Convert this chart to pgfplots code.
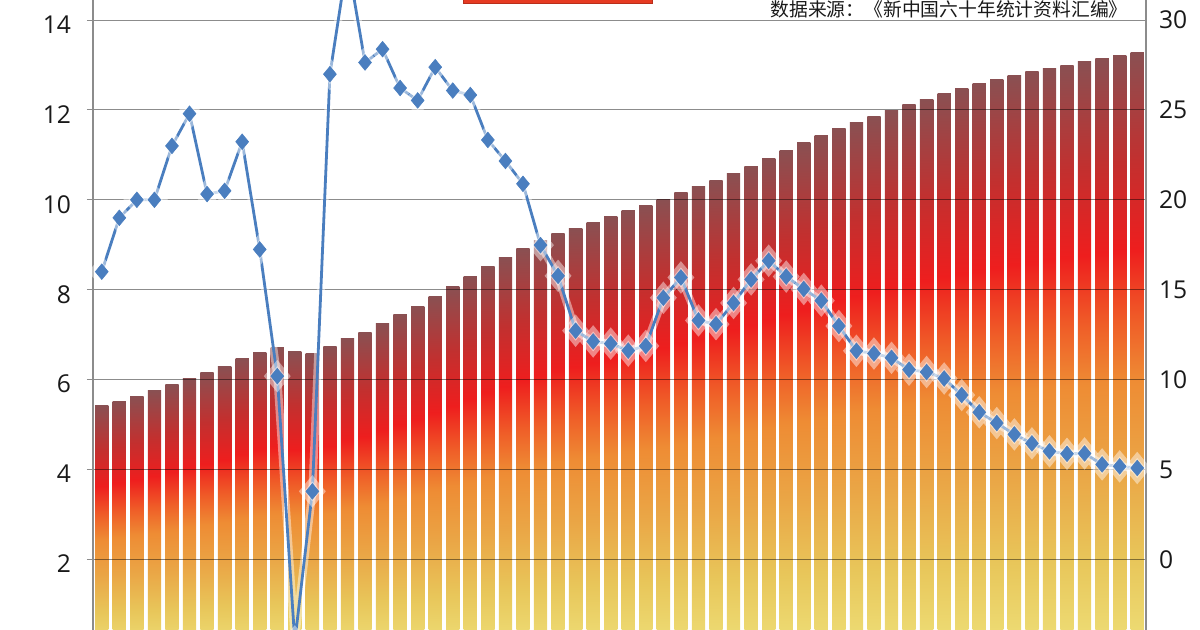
\documentclass[border=0pt]{standalone}
\usepackage{pgfplots}
\pgfplotsset{compat=1.18}
\usepackage{pgfplotstable}
\usepackage{fontspec}
\setmainfont{Open Sans}
\newfontfamily\cjk{Noto Sans CJK SC}
\definecolor{c0}{HTML}{EEDF78}
\definecolor{c1}{HTML}{E8C65A}
\definecolor{c2}{HTML}{EAA646}
\definecolor{c3}{HTML}{EE8C34}
\definecolor{c4}{HTML}{EF5E28}
\definecolor{c5}{HTML}{EE1E1E}
\definecolor{c6}{HTML}{C2302F}
\definecolor{c7}{HTML}{8A5052}
\definecolor{lineblue}{HTML}{4A7EBF}
\definecolor{titlered}{HTML}{E63A22}
\pgfdeclareverticalshading{barshade}{100bp}{color(0bp)=(c0); color(25bp)=(c0); color(32.5bp)=(c1); color(40bp)=(c2); color(47.5bp)=(c3); color(52.5bp)=(c4); color(58.5bp)=(c5); color(66bp)=(c6); color(75bp)=(c7); color(100bp)=(c7)}
\pgfplotstableread{
idx year pop rate
0 1949 5.4167 16.00
1 1950 5.5196 19.00
2 1951 5.6300 20.00
3 1952 5.7482 20.00
4 1953 5.8796 23.00
5 1954 6.0266 24.79
6 1955 6.1465 20.32
7 1956 6.2828 20.50
8 1957 6.4653 23.23
9 1958 6.5994 17.24
10 1959 6.7207 10.19
11 1960 6.6207 -4.57
12 1961 6.5859 3.78
13 1962 6.7295 26.99
14 1963 6.9172 33.33
15 1964 7.0499 27.64
16 1965 7.2538 28.38
17 1966 7.4542 26.22
18 1967 7.6368 25.53
19 1968 7.8534 27.38
20 1969 8.0671 26.08
21 1970 8.2992 25.83
22 1971 8.5229 23.33
23 1972 8.7177 22.16
24 1973 8.9211 20.89
25 1974 9.0859 17.48
26 1975 9.2420 15.77
27 1976 9.3717 12.72
28 1977 9.4974 12.12
29 1978 9.6259 12.00
30 1979 9.7542 11.61
31 1980 9.8705 11.87
32 1981 10.0072 14.55
33 1982 10.1654 15.68
34 1983 10.3008 13.29
35 1984 10.4357 13.08
36 1985 10.5851 14.26
37 1986 10.7507 15.57
38 1987 10.9300 16.61
39 1988 11.1026 15.73
40 1989 11.2704 15.04
41 1990 11.4333 14.39
42 1991 11.5823 12.98
43 1992 11.7171 11.60
44 1993 11.8517 11.45
45 1994 11.9850 11.21
46 1995 12.1121 10.55
47 1996 12.2389 10.42
48 1997 12.3626 10.06
49 1998 12.4761 9.14
50 1999 12.5786 8.18
51 2000 12.6743 7.58
52 2001 12.7627 6.95
53 2002 12.8453 6.45
54 2003 12.9227 6.01
55 2004 12.9988 5.87
56 2005 13.0756 5.89
57 2006 13.1448 5.28
58 2007 13.2129 5.17
59 2008 13.2802 5.08
}\datatable
\begin{document}
\begin{tikzpicture}
\path[use as bounding box] (-46.5pt,9.6pt) rectangle (553.5pt,324.6pt);
\begin{scope}
\clip (-46.5pt,9.6pt) rectangle (553.5pt,324.6pt);
\begin{axis}[
  at={(0pt,0pt)}, anchor=south west,
  scale only axis, width=526.5pt, height=359.5pt,
  xmin=-0.5, xmax=59.5, ymin=0, ymax=16,
  xtick=\empty,
  ytick={0,2,...,16},
  yticklabels={,2,4,6,8,10,12,14,},
  ytick pos=left,
  ymajorgrids, axis on top,
  major grid style={black, opacity=0.45, line width=0.5pt},
  axis line style={black!45, line width=0.6pt},
  tick align=outside, major tick length=3pt,
  ytick style={black!45, line width=0.5pt},
  yticklabel style={font=\fontsize{12.3}{14}\selectfont, text=black!90, yshift=-2.3pt, xshift=-4.5pt},
  /pgf/number format/assume math mode=true,
]
\pgfplotsforeachungrouped \i in {0,...,59}{
  \pgfplotstablegetelem{\i}{pop}\of\datatable
  \edef\tmp{\noexpand\addplot[ybar, bar width=6.65pt, bar shift=0pt, draw=none, shading=barshade] coordinates {(\i,\pgfplotsretval)};}
  \tmp
}
\end{axis}
\begin{axis}[
  at={(0pt,0pt)}, anchor=south west,
  scale only axis, width=526.5pt, height=359.5pt,
  xmin=-0.5, xmax=59.5, ymin=-5, ymax=35,
  axis x line=none, axis y line*=right,
  ytick={0,5,...,30},
  major tick length=0pt,
  axis line style={black!45, line width=0.6pt},
  yticklabel style={font=\fontsize{12.3}{14}\selectfont, text=black!90, xshift=3pt},
  /pgf/number format/assume math mode=true,
]
\addplot[white, opacity=0.45, line width=4pt, mark=diamond*, mark size=5pt, mark options={fill=white, draw=white, xscale=1.1}] table[x=idx, y=rate]{\datatable};
\addplot[lineblue, line width=1.4pt, mark=diamond*, mark size=3.9pt, mark options={fill=lineblue, draw=lineblue, line width=0.3pt, xscale=1.1}] table[x=idx, y=rate]{\datatable};
\end{axis}
\node[anchor=base east, font=\cjk\fontsize{9.4}{11}\selectfont, text=black!90, inner sep=0pt] at (517.5pt,316.5pt) {数据来源：《新中国六十年统计资料汇编》};
\fill[titlered, draw=titlered!80!black, line width=0.4pt] (185pt,322.9pt) rectangle (279.5pt,335pt);
\end{scope}
\end{tikzpicture}
\end{document}
